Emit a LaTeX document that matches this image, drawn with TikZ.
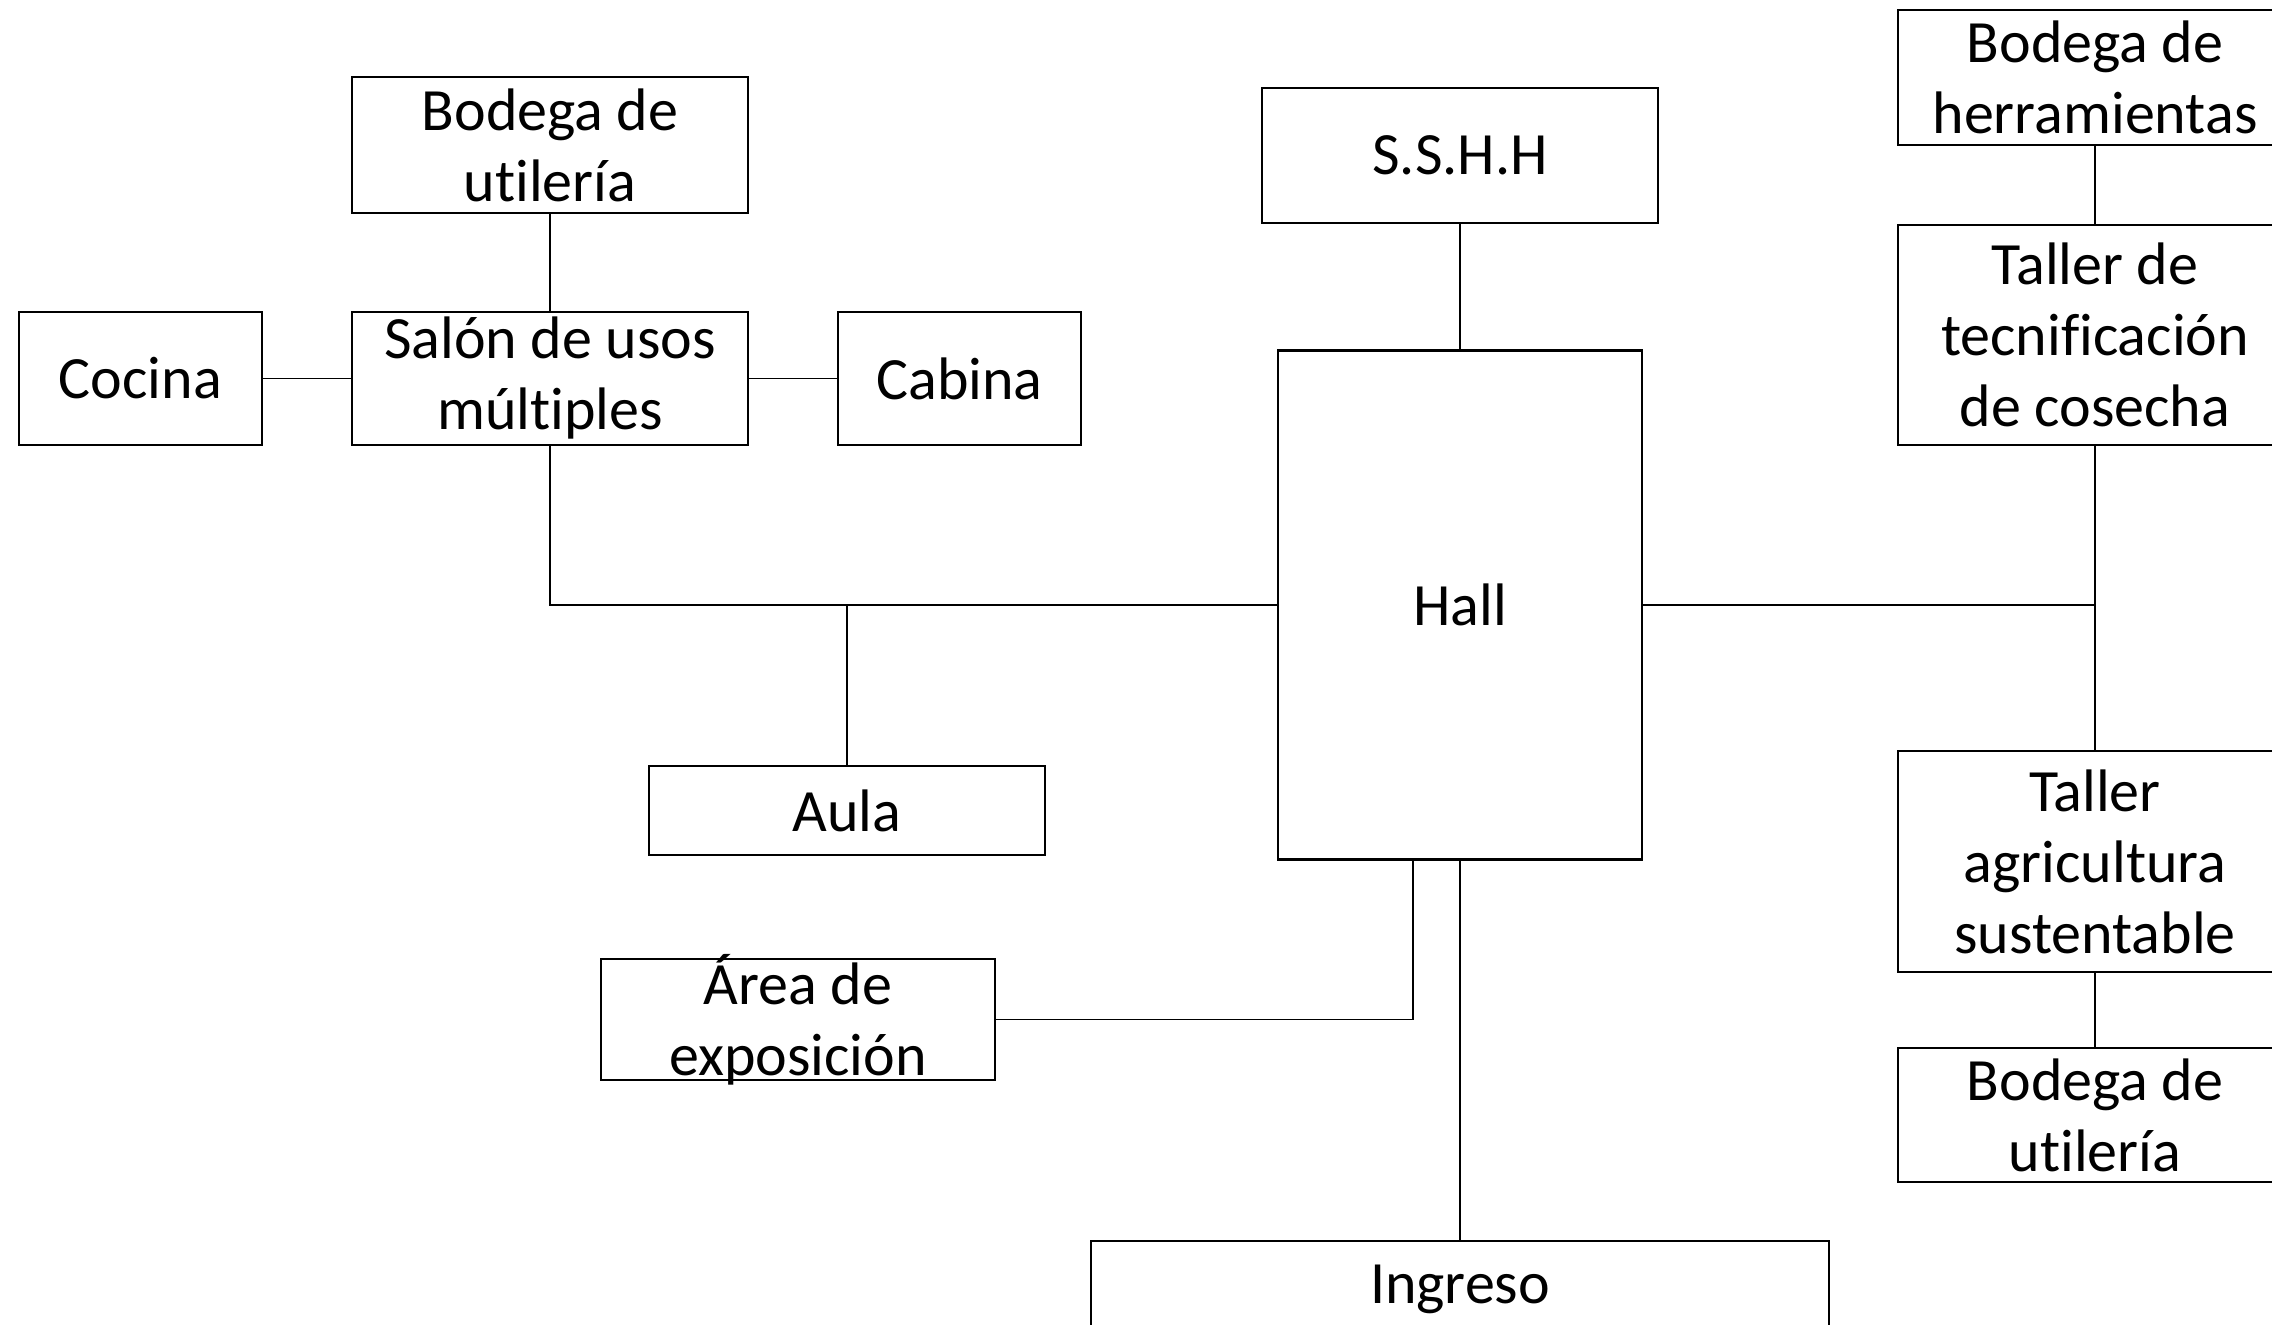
\documentclass[tikz,border=0pt]{standalone}
\usepackage{fontspec}
\setmainfont[Ligatures=NoCommon]{Carlito}
\usepackage{tikz}
\usetikzlibrary{positioning,calc}
\newlength{\ZoneFigureUnit}
\setlength{\ZoneFigureUnit}{0.5pt}
\newcommand{\ZoneFigureFont}{\fontsize{30pt}{35.5pt}\selectfont}

\begin{document}
\begin{tikzpicture}[x=\ZoneFigureUnit,y=-\ZoneFigureUnit]
    \tikzset{
        zone box/.style={draw=black, line width=1.2pt, fill=white,
            align=center, inner sep=0pt, font=\ZoneFigureFont},
        zone size/.style 2 args={minimum width=#1*\ZoneFigureUnit,
            minimum height=#2*\ZoneFigureUnit},
        zone link/.style={draw=black, line width=0.75pt}
    }
    \useasboundingbox (0,0) rectangle (2272,1325);
    \clip (0,0) rectangle (2272,1325);

    % left group
    \node[zone box, zone size={396}{136}] (bodega-util-left) at (550,145) {Bodega de\\utilería};
    \node[zone box, zone size={243}{133}] (cocina) at (140.5,378.5) {Cocina};
    \node[zone box, zone size={396}{133}] (salon) at (550,378.5) {Salón de usos\\múltiples};
    \node[zone box, zone size={243}{133}] (cabina) at (959.5,378.5) {Cabina};
    \node[zone box, zone size={396}{89}] (aula) at (847,810.5) {Aula};
    \node[zone box, zone size={394}{121}, inner ysep=-4pt] (area) at (798,1019.5) {Área de\\exposición};

    % centre
    \node[zone box, zone size={396}{135}] (sshh) at (1460,155.5) {S.S.H.H};
    \node[zone box, zone size={364}{509}] (hall) at (1460,605) {Hall};
    \node[zone box, zone size={738}{96}] (ingreso) at (1460,1289) {Ingreso};

    % right column
    \node[zone box, zone size={394}{135}] (bodega-herr) at (2095,77.5) {Bodega de\\herramientas};
    \node[zone box, zone size={394}{220}] (taller-tec) at (2095,335) {Taller de\\tecnificación\\de cosecha};
    \node[zone box, zone size={394}{221}] (taller-agr) at (2095,861.5) {Taller\\agricultura\\sustentable};
    \node[zone box, zone size={394}{134}] (bodega-util-right) at (2095,1115) {Bodega de\\utilería};

    % links
    \draw[zone link] (bodega-util-left) -- (salon);
    \draw[zone link] (cocina) -- (salon);
    \draw[zone link] (salon) -- (cabina);
    \draw[zone link] (salon.south) |- (hall.west);
    \coordinate (aula-junction) at (aula.north |- hall.west);
    \draw[zone link] (aula-junction) -- (aula.north);
    \draw[zone link] (sshh) -- (hall);
    \coordinate (hall-exit) at ($(hall.south)+(-47,0)$);
    \draw[zone link] (area.east) -| (hall-exit);
    \draw[zone link] (hall) -- (ingreso);
    \coordinate (right-junction) at (hall.east -| taller-tec.south);
    \draw[zone link] (hall.east) -- (right-junction);
    \draw[zone link] (bodega-herr) -- (taller-tec);
    \draw[zone link] (taller-tec) -- (taller-agr);
    \draw[zone link] (taller-agr) -- (bodega-util-right);
\end{tikzpicture}
\end{document}
